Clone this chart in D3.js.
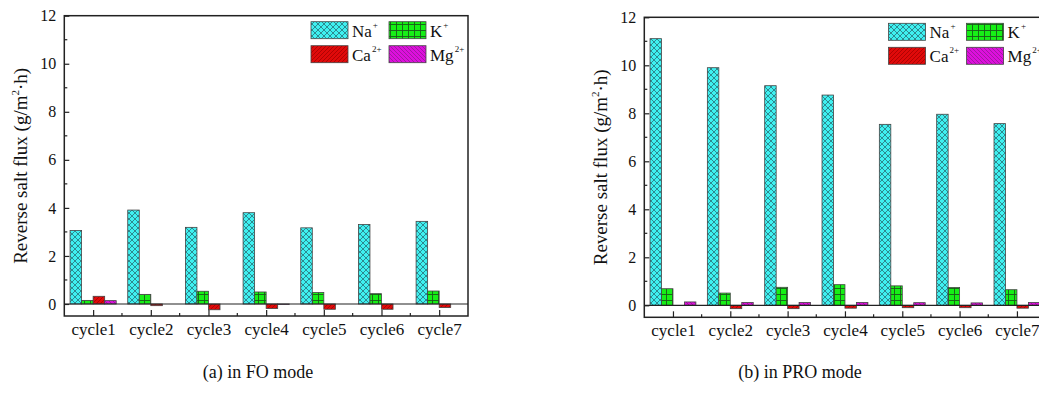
<!DOCTYPE html>
<html>
<head>
<meta charset="utf-8">
<script src="https://cdn.jsdelivr.net/npm/d3@7"></script>
<style>
  body { margin: 0; background: #fff; }
  svg { display: block; font-family: "Liberation Serif", "Times New Roman", serif; }
</style>
</head>
<body>
<svg width="1039" height="401"></svg>
<script>
// categories
const cycles = ["cycle1", "cycle2", "cycle3", "cycle4", "cycle5", "cycle6", "cycle7"];

// (a) FO mode, g/m2.h
const foNa = [3.06, 3.91, 3.19, 3.80, 3.17, 3.31, 3.44];
const foK  = [0.15, 0.40, 0.53, 0.50, 0.48, 0.43, 0.54];
const foCa = [0.32, -0.07, -0.24, -0.19, -0.22, -0.22, -0.15];
const foMg = [0.14, 0, 0, -0.02, 0, 0, 0];

// (b) PRO mode
const proNa = [11.11, 9.90, 9.15, 8.76, 7.54, 7.96, 7.57];
const proK  = [0.69, 0.51, 0.75, 0.86, 0.81, 0.74, 0.65];
const proCa = [0, -0.14, -0.14, -0.12, -0.10, -0.10, -0.12];
const proMg = [0.14, 0.12, 0.12, 0.12, 0.11, 0.10, 0.12];

const yTicks = [0, 2, 4, 6, 8, 10, 12];
const ions = [
    {name: "Na", sup: "+", pat: "patNa"},
    {name: "K", sup: "+", pat: "patK"},
    {name: "Ca", sup: "2+", pat: "patCa"},
    {name: "Mg", sup: "2+", pat: "patMg"}
];

const svg = d3.select("svg");
const defs = svg.append("defs");

// fill patterns
function hatch(id, size, bg, stroke, paths, sw) {
    const p = defs.append("pattern")
        .attr("id", id)
        .attr("patternUnits", "userSpaceOnUse")
        .attr("width", size).attr("height", size);
    p.append("rect").attr("width", size).attr("height", size).attr("fill", bg);
    paths.forEach(d => p.append("path").attr("d", d)
        .attr("stroke", stroke).attr("stroke-width", sw).attr("fill", "none"));
}
hatch("patNa", 6, "#3ff0f0", "#2b7f86", ["M0,0L6,6", "M6,0L0,6"], 0.9);
hatch("patK", 6, "#16ef16", "#1a5a1a", ["M0,0.5H6", "M0.5,0V6"], 0.9);
hatch("patCa", 4, "#e00a0a", "#9a0000", ["M0,4L4,0", "M-1,1L1,-1", "M3,5L5,3"], 0.7);
hatch("patMg", 4, "#dd10dd", "#8a1a8a", ["M0,0L4,4", "M-1,3L1,5", "M3,-1L5,1"], 0.7);

function drawPanel(opt) {
    const x = d3.scaleLinear().domain([0.5, 7.5]).range([opt.left, opt.right]);
    const y = d3.scaleLinear().domain([-0.5, 12]).range([opt.bottom, opt.top]);
    const g = svg.append("g");
    const series = [opt.na, opt.k, opt.ca, opt.mg];
    const bw = x(0.2) - x(0);

    // bars
    series.forEach((vals, j) => {
        g.append("g").selectAll("rect")
            .data(vals)
            .enter().append("rect")
            .attr("x", (d, i) => x(i + 1 - 0.4 + j * 0.2))
            .attr("y", d => y(Math.max(0, d)))
            .attr("width", bw)
            .attr("height", d => Math.abs(y(d) - y(0)))
            .attr("fill", `url(#${ions[j].pat})`)
            .attr("stroke", "#444")
            .attr("stroke-width", 0.8);
    });

    // zero line
    g.append("line")
        .attr("x1", opt.left).attr("x2", opt.right)
        .attr("y1", y(0)).attr("y2", y(0))
        .attr("stroke", "#222").attr("stroke-width", 1.2);

    // frame
    g.append("rect")
        .attr("x", opt.left).attr("y", opt.top)
        .attr("width", opt.right - opt.left).attr("height", opt.bottom - opt.top)
        .attr("fill", "none").attr("stroke", "#222").attr("stroke-width", 1.5);

    // y ticks (inward)
    const yAxis = d3.axisLeft(y).tickValues(yTicks).tickSize(-5).tickPadding(8).tickFormat(d3.format("d"));
    const ya = g.append("g").attr("transform", `translate(${opt.left},0)`).call(yAxis);
    ya.select(".domain").remove();
    ya.selectAll("line").attr("stroke", "#222").attr("stroke-width", 1.2);
    ya.selectAll("text").attr("font-size", 16).attr("fill", "#111")
        .attr("font-family", "Liberation Serif, serif");
    g.append("g").selectAll("line")
        .data(d3.range(1, 12, 2))
        .enter().append("line")
        .attr("x1", opt.left).attr("x2", opt.left + 3)
        .attr("y1", d => y(d)).attr("y2", d => y(d))
        .attr("stroke", "#222").attr("stroke-width", 1.2);

    // x ticks (inward)
    const xAxis = d3.axisBottom(x).tickValues(d3.range(1, 8)).tickSize(-6).tickPadding(7)
        .tickFormat(d => cycles[d - 1]);
    const xa = g.append("g").attr("transform", `translate(0,${opt.bottom})`).call(xAxis);
    xa.select(".domain").remove();
    xa.selectAll("line").attr("stroke", "#222").attr("stroke-width", 1.2);
    xa.selectAll("text").attr("font-size", 17).attr("fill", "#111")
        .attr("font-family", "Liberation Serif, serif");
    g.append("g").selectAll("line")
        .data(d3.range(1.5, 7.5, 1))
        .enter().append("line")
        .attr("x1", d => x(d)).attr("x2", d => x(d))
        .attr("y1", opt.bottom).attr("y2", opt.bottom - 3)
        .attr("stroke", "#222").attr("stroke-width", 1.2);

    // y title
    const yt = g.append("text")
        .attr("transform", `translate(${opt.left - 37},${(opt.top + opt.bottom) / 2}) rotate(-90)`)
        .attr("text-anchor", "middle")
        .attr("font-size", 19).attr("fill", "#111");
    yt.append("tspan").text("Reverse salt flux (g/m");
    yt.append("tspan").attr("font-size", 11).attr("dy", -8).text("2");
    yt.append("tspan").attr("dy", 8).text("·h)");

    // legend
    const lg = g.append("g");
    ions.forEach((ion, j) => {
        const lx = opt.right - (j % 2 === 0 ? 157 : 79);
        const ly = opt.top + 6 + Math.floor(j / 2) * 24;
        lg.append("rect")
            .attr("x", lx).attr("y", ly).attr("width", 37).attr("height", 17)
            .attr("fill", `url(#${ion.pat})`).attr("stroke", "#444").attr("stroke-width", 0.8);
        const t = lg.append("text")
            .attr("x", lx + 41).attr("y", ly + 15)
            .attr("font-size", 17).attr("fill", "#111");
        t.append("tspan").text(ion.name);
        t.append("tspan").attr("font-size", 9).attr("dy", -9).attr("dx", 1).text(ion.sup);
    });

    // caption
    svg.append("text")
        .attr("x", opt.capX).attr("y", 378)
        .attr("text-anchor", "middle")
        .attr("font-size", 18).attr("fill", "#111")
        .text(opt.caption);
}

drawPanel({left: 64.3, right: 468, top: 15.7, bottom: 316,
    na: foNa, k: foK, ca: foCa, mg: foMg, caption: "(a) in FO mode", capX: 258});
drawPanel({left: 644.3, right: 1045.6, top: 17.3, bottom: 317.3,
    na: proNa, k: proK, ca: proCa, mg: proMg, caption: "(b) in PRO mode", capX: 800});
</script>
</body>
</html>
